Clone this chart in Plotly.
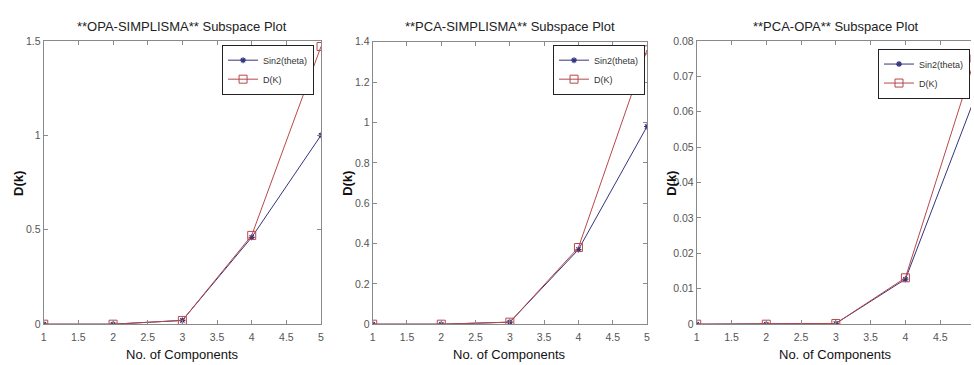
import plotly.graph_objects as go

components = [1, 2, 3, 4, 5]
titles = ["**OPA-SIMPLISMA** Subspace Plot", "**PCA-SIMPLISMA** Subspace Plot", "**PCA-OPA** Subspace Plot"]
sin2_opa_simplisma = [0.0, 0.0, 0.02, 0.46, 1.0]
dk_opa_simplisma = [0.0, 0.0, 0.02, 0.47, 1.47]
sin2_pca_simplisma = [0.0, 0.0, 0.01, 0.37, 0.98]
dk_pca_simplisma = [0.0, 0.0, 0.01, 0.38, 1.36]
sin2_pca_opa = [0.0, 0.0, 0.0002, 0.0127, 0.064]
dk_pca_opa = [0.0, 0.0, 0.0002, 0.0131, 0.075]
x_ticks = [1, 1.5, 2, 2.5, 3, 3.5, 4, 4.5, 5]
x_tick_labels = ["1", "1.5", "2", "2.5", "3", "3.5", "4", "4.5", "5"]
y_ticks = [[0, 0.5, 1, 1.5], [0, 0.2, 0.4, 0.6, 0.8, 1, 1.2, 1.4],
           [0, 0.01, 0.02, 0.03, 0.04, 0.05, 0.06, 0.07, 0.08]]
y_tick_labels = [["0", "0.5", "1", "1.5"], ["0", "0.2", "0.4", "0.6", "0.8", "1", "1.2", "1.4"],
                 ["0", "0.01", "0.02", "0.03", "0.04", "0.05", "0.06", "0.07", "0.08"]]
y_ranges = [[0, 1.5], [0, 1.4], [0, 0.08]]
x_title = "No. of Components"
y_title = "D(k)"
series_names = ["Sin2(theta)", "D(K)"]

W, H = 974, 365
FONT = "Liberation Sans Narrow, Arial Narrow, Liberation Sans, Arial"
BLUE = "#34347f"
RED = "#b8484a"
AXC = "#8a8a8a"

# pixel boxes of the three plot areas (left, right, top, bottom)
boxes = [(41, 320, 36, 329), (372, 648, 37, 329), (698, 974, 36, 329)]
x_ranges = [[1, 5], [1, 5], [1, 1 + (974 - 698) / 70.0]]
legend_pos = [(313, 40), (646, 40), (973, 44)]
centers = [180.5, 510, 838]

data = [(sin2_opa_simplisma, dk_opa_simplisma),
        (sin2_pca_simplisma, dk_pca_simplisma),
        (sin2_pca_opa, dk_pca_opa)]

fig = go.Figure()
annotations = []
for i, ((s, d), (l, r, t, b)) in enumerate(zip(data, boxes)):
    n = "" if i == 0 else str(i + 1)
    leg = "legend" if i == 0 else "legend" + str(i + 1)
    fig.add_trace(go.Scatter(x=components, y=s, name=series_names[0], mode="lines+markers",
                             line=dict(color=BLUE, width=1),
                             marker=dict(symbol="asterisk-open", size=5, line=dict(color=BLUE, width=1.2)),
                             xaxis="x" + n, yaxis="y" + n, legend=leg))
    fig.add_trace(go.Scatter(x=components, y=d, name=series_names[1], mode="lines+markers",
                             line=dict(color=RED, width=1),
                             marker=dict(symbol="square-open", size=8, color=RED, line=dict(color=RED, width=1)),
                             xaxis="x" + n, yaxis="y" + n, legend=leg))
    xd = [l / W, r / W]
    yd = [(H - b) / H, (H - t) / H]
    common = dict(showgrid=False, zeroline=False, showline=True, linecolor=AXC, linewidth=1,
                  ticks="inside", ticklen=4, tickcolor=AXC,
                  tickfont=dict(family=FONT, size=10.5, color="#555555"))
    fig.layout["xaxis" + n] = dict(domain=xd, range=x_ranges[i], tickvals=x_ticks, ticktext=x_tick_labels,
                                   mirror="ticks", anchor="y" + n, ticklabelstandoff=3, **common)
    fig.layout["yaxis" + n] = dict(domain=yd, range=y_ranges[i], tickvals=y_ticks[i], ticktext=y_tick_labels[i],
                                   mirror=("ticks" if i < 2 else False), anchor="x" + n, **common)
    lx, ly = legend_pos[i]
    fig.layout[leg] = dict(x=lx / W, y=(H - ly) / H, xanchor="right", yanchor="top",
                           bgcolor="white", bordercolor="#222222", borderwidth=1,
                           font=dict(family=FONT, size=9, color="#333333"),
                           tracegroupgap=0, itemwidth=30)
    cx = centers[i]
    annotations.append(dict(text=titles[i], x=cx / W, y=(H - 21) / H, xref="paper", yref="paper",
                            showarrow=False, xanchor="center", yanchor="middle",
                            font=dict(family=FONT, size=13, color="#222222")))
    annotations.append(dict(text=x_title, x=cx / W, y=0.0, xref="paper", yref="paper",
                            showarrow=False, xanchor="center", yanchor="bottom", yshift=-5,
                            font=dict(family=FONT, size=13, color="#111111")))
    annotations.append(dict(text="<b>" + y_title + "</b>", x=(l - 25) / W, y=(H - 183) / H,
                            xref="paper", yref="paper", textangle=-90,
                            showarrow=False, xanchor="center", yanchor="middle",
                            font=dict(family="Liberation Sans, Arial", size=13, color="#111111")))

fig.update_layout(width=W, height=H, margin=dict(l=0, r=0, t=0, b=0),
                  paper_bgcolor="white", plot_bgcolor="white", annotations=annotations,
                  showlegend=True)
fig.write_html("out.html")
